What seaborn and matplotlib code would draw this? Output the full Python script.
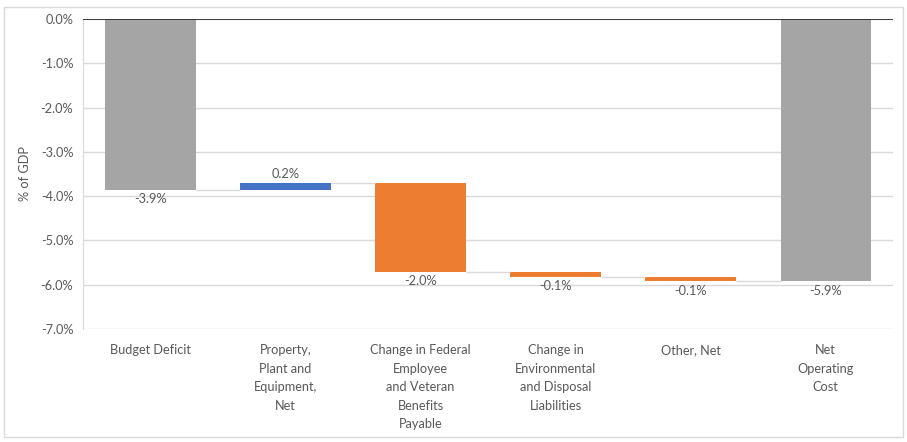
import numpy as np
import pandas as pd
import matplotlib
matplotlib.use("Agg")
import matplotlib.pyplot as plt
import seaborn as sns
from matplotlib.patches import Rectangle
from matplotlib.ticker import FuncFormatter

# data (% of GDP)
categories = ["Budget Deficit",
              "Property,\nPlant and\nEquipment,\nNet",
              "Change in Federal\nEmployee\nand Veteran\nBenefits\nPayable",
              "Change in\nEnvironmental\nand Disposal\nLiabilities",
              "Other, Net",
              "Net\nOperating\nCost"]
changes = [-3.86, 0.16, -2.01, -0.11, -0.10, -5.92]
is_total = [True, False, False, False, False, True]

GRAY = "#A5A5A5"
BLUE = "#4472C4"
ORANGE = "#ED7D31"
TXT = "#595959"

# waterfall bottoms / heights
bottoms, heights, ends = [], [], []
running = 0.0
for v, tot in zip(changes, is_total):
    if tot:
        bottoms.append(0.0)
        heights.append(v)
        running = v
    else:
        bottoms.append(running)
        heights.append(v)
        running = running + v
    ends.append(running)
colors = [GRAY if t else (BLUE if v > 0 else ORANGE) for v, t in zip(changes, is_total)]

df = pd.DataFrame({"cat": categories, "height": heights, "bottom": bottoms})

sns.set_style("white")
plt.rcParams["font.family"] = ["Lato", "DejaVu Sans"]

fig = plt.figure(figsize=(9.07, 4.42), dpi=100)
ax = fig.add_axes([0.0915, 0.2557, 0.8931, 0.7013])

sns.barplot(data=df, x="cat", y="height", bottom=df["bottom"].values,
            width=0.667, ax=ax, color=GRAY, saturation=1, errorbar=None)
for p, c in zip(ax.patches, colors):
    p.set_facecolor(c)
    p.set_edgecolor("none")

# connectors
bw = 0.667
for i in range(len(categories) - 1):
    ax.hlines(ends[i], i + bw / 2, i + 1 - bw / 2, color="#D9D9D9", lw=1, zorder=1)

# value labels
for i, (v, b, e) in enumerate(zip(changes, bottoms, ends)):
    lo = min(b, b + heights[i])
    hi = max(b, b + heights[i])
    if v >= 0:
        ax.text(i, hi + 0.06, f"{v:.1f}%", ha="center", va="bottom", fontsize=9.2, color=TXT)
    else:
        ax.text(i, lo - 0.08, f"{v:.1f}%", ha="center", va="top", fontsize=9.2, color=TXT)

ax.set_ylim(-7.0, 0.0)
ax.set_xlim(-0.5, len(categories) - 0.5)
ax.set_yticks(np.arange(-7, 0.5, 1))
ax.yaxis.set_major_formatter(FuncFormatter(lambda y, _: f"{y:.1f}%"))
ax.grid(axis="y", color="#D9D9D9", lw=1)
ax.set_axisbelow(True)
ax.axhline(0, color="#262626", lw=1.2, zorder=3)
for s in ["top", "right", "bottom"]:
    ax.spines[s].set_visible(False)
ax.spines["left"].set_color("#D9D9D9")
ax.tick_params(axis="both", length=0, labelsize=9.2, colors=TXT)
ax.tick_params(axis="y", pad=7)
ax.tick_params(axis="x", pad=11)
for lbl in ax.get_xticklabels():
    lbl.set_linespacing(1.65)
    lbl.set_verticalalignment("top")
ax.set_xlabel("")
ax.set_ylabel("% of GDP", fontsize=9.2, color=TXT, labelpad=7)

fig.add_artist(Rectangle((0.004, 0.012), 0.992, 0.972, transform=fig.transFigure,
                         fill=False, edgecolor="#D9D9D9", lw=1))

fig.savefig("out.png", dpi=100)
